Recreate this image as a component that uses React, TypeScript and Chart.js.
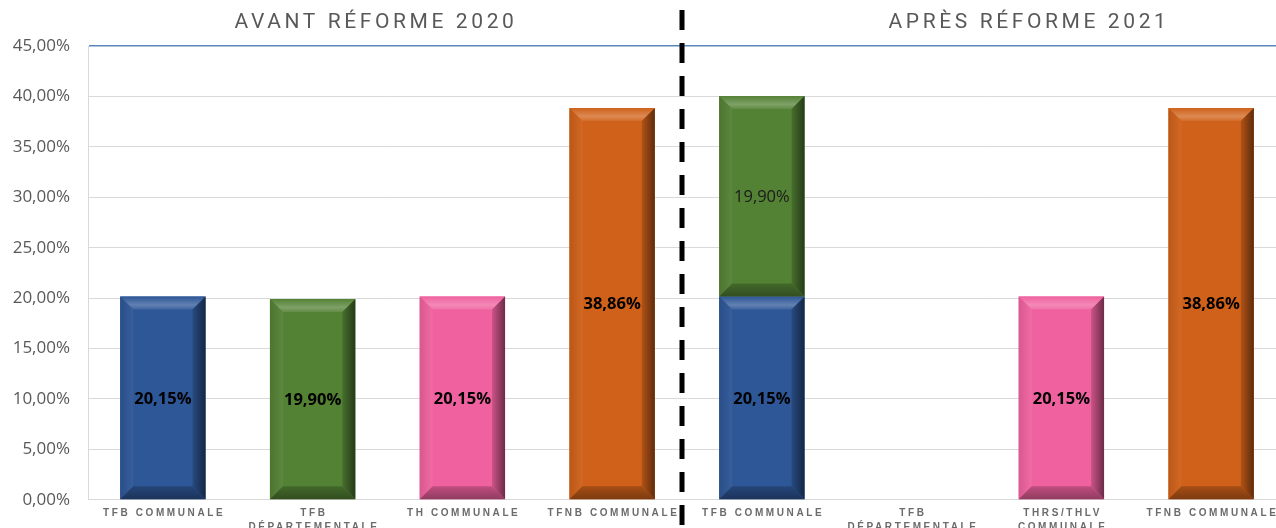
import React, { useEffect, useRef } from "react";
import { Chart, registerables } from "chart.js";

Chart.register(...registerables);

const categories: string[][] = [
  ["TFB COMMUNALE"],
  ["TFB", "DÉPARTEMENTALE"],
  ["TH COMMUNALE"],
  ["TFNB COMMUNALE"],
  ["TFB COMMUNALE"],
  ["TFB", "DÉPARTEMENTALE"],
  ["THRS/THLV", "COMMUNALE"],
  ["TFNB COMMUNALE"],
];
const tfbCommunale = [20.15, 0, 0, 0, 20.15, 0, 0, 0];
const tfbDepartementale = [0, 19.9, 0, 0, 19.9, 0, 0, 0];
const thCommunale = [0, 0, 20.15, 0, 0, 0, 20.15, 0];
const tfnbCommunale = [0, 0, 0, 38.86, 0, 0, 0, 38.86];
const periodTitles = ["AVANT RÉFORME 2020", "APRÈS RÉFORME 2021"];
const yMin = 0;
const yMax = 45;
const yStep = 5;

const COLORS = ["#2E5797", "#548235", "#F0629F", "#D0611A"];

function hexToRgb(h: string) {
  const n = parseInt(h.slice(1), 16);
  return [(n >> 16) & 255, (n >> 8) & 255, n & 255];
}
function mix(h: string, target: number, t: number) {
  const [r, g, b] = hexToRgb(h);
  const f = (c: number) => Math.round(c + (target - c) * t);
  return `rgb(${f(r)},${f(g)},${f(b)})`;
}
const fmt = (v: number) => v.toFixed(2).replace(".", ",") + "%";

const decorPlugin = {
  id: "decor",
  afterDatasetsDraw(chart: any) {
    const ctx = chart.ctx as CanvasRenderingContext2D;
    const zeroY = chart.scales.y.getPixelForValue(0);
    chart.data.datasets.forEach((ds: any, di: number) => {
      const meta = chart.getDatasetMeta(di);
      const base = ds.backgroundColor as string;
      meta.data.forEach((el: any, i: number) => {
        const v = ds.data[i];
        if (!v) return;
        const p = el.getProps(["x", "y", "base", "width"], true);
        const x0 = p.x - p.width / 2;
        const x1 = p.x + p.width / 2;
        const y0 = Math.min(p.y, p.base);
        const y1 = Math.max(p.y, p.base);
        const b = Math.min(13, (y1 - y0) / 2, p.width / 2);
        ctx.save();
        // top face
        ctx.beginPath();
        ctx.moveTo(x0, y0);
        ctx.lineTo(x1, y0);
        ctx.lineTo(x1 - b, y0 + b);
        ctx.lineTo(x0 + b, y0 + b);
        ctx.closePath();
        const gt = ctx.createLinearGradient(0, y0, 0, y0 + b);
        gt.addColorStop(0, mix(base, 255, 0.0));
        gt.addColorStop(0.65, mix(base, 255, 0.25));
        gt.addColorStop(1, mix(base, 255, 0.08));
        ctx.fillStyle = gt;
        ctx.fill();
        // left face
        ctx.beginPath();
        ctx.moveTo(x0, y0);
        ctx.lineTo(x0 + b, y0 + b);
        ctx.lineTo(x0 + b, y1 - b);
        ctx.lineTo(x0, y1);
        ctx.closePath();
        const gl = ctx.createLinearGradient(x0, 0, x0 + b, 0);
        gl.addColorStop(0, mix(base, 0, 0.1));
        gl.addColorStop(1, mix(base, 255, 0.05));
        ctx.fillStyle = gl;
        ctx.fill();
        // right face
        ctx.beginPath();
        ctx.moveTo(x1, y0);
        ctx.lineTo(x1, y1);
        ctx.lineTo(x1 - b, y1 - b);
        ctx.lineTo(x1 - b, y0 + b);
        ctx.closePath();
        const gr = ctx.createLinearGradient(x1 - b, 0, x1, 0);
        gr.addColorStop(0, mix(base, 0, 0.15));
        gr.addColorStop(1, mix(base, 0, 0.55));
        ctx.fillStyle = gr;
        ctx.fill();
        // bottom face
        ctx.beginPath();
        ctx.moveTo(x0, y1);
        ctx.lineTo(x0 + b, y1 - b);
        ctx.lineTo(x1 - b, y1 - b);
        ctx.lineTo(x1, y1);
        ctx.closePath();
        const gb = ctx.createLinearGradient(0, y1 - b, 0, y1);
        gb.addColorStop(0, mix(base, 0, 0.2));
        gb.addColorStop(1, mix(base, 0, 0.4));
        ctx.fillStyle = gb;
        ctx.fill();
        ctx.restore();

        // value label
        const stacked = Math.abs(Math.max(p.y, p.base) - zeroY) > 1;
        ctx.save();
        ctx.font = `${stacked ? "normal" : "bold"} 16.5px 'Open Sans'`;
        ctx.fillStyle = stacked ? "#1a1a1a" : "#000";
        ctx.textAlign = "center";
        ctx.textBaseline = "middle";
        ctx.fillText(fmt(v), p.x, (y0 + y1) / 2 + 1);
        ctx.restore();
      });
    });
  },
  afterDraw(chart: any) {
    const ctx = chart.ctx as CanvasRenderingContext2D;
    const xs = chart.scales.x;
    const area = chart.chartArea;
    // x labels
    ctx.save();
    (ctx as any).letterSpacing = "2.6px";
    ctx.font = "bold 10px 'Liberation Sans'";
    ctx.fillStyle = "#6b6b6b";
    ctx.textAlign = "center";
    ctx.textBaseline = "middle";
    categories.forEach((lines, i) => {
      const cx = xs.getPixelForValue(i) + 1.3;
      lines.forEach((ln, k) => {
        ctx.fillText(ln, cx, area.bottom + 13 + k * 14);
      });
    });
    ctx.restore();

    // titles
    ctx.save();
    (ctx as any).letterSpacing = "3.6px";
    ctx.font = "21px Roboto";
    ctx.fillStyle = "#595959";
    ctx.textAlign = "center";
    ctx.textBaseline = "middle";
    ctx.fillText(periodTitles[0], 376, 23);
    ctx.fillText(periodTitles[1], 1029, 23);
    ctx.restore();

    // dashed separator
    const sx = xs.getPixelForValue(3.5) - 5;
    ctx.save();
    ctx.strokeStyle = "#000";
    ctx.lineWidth = 5;
    ctx.setLineDash([20, 13]);
    ctx.beginPath();
    ctx.moveTo(sx, 10);
    ctx.lineTo(sx, chart.height);
    ctx.stroke();
    ctx.restore();
  },
};

export default function App() {
  const ref = useRef<HTMLCanvasElement>(null);
  useEffect(() => {
    const canvas = ref.current!;
    const chart = new Chart(canvas, {
      type: "bar",
      data: {
        labels: categories.map((c) => c.join(" ")),
        datasets: [
          { label: "TFB communale", data: tfbCommunale, backgroundColor: COLORS[0] },
          { label: "TFB départementale", data: tfbDepartementale, backgroundColor: COLORS[1] },
          { label: "TH communale", data: thCommunale, backgroundColor: COLORS[2] },
          { label: "TFNB communale", data: tfnbCommunale, backgroundColor: COLORS[3] },
        ].map((d) => ({ ...d, barPercentage: 0.57, categoryPercentage: 1, borderWidth: 0, stack: "s" })),
      },
      options: {
        animation: false,
        responsive: false,
        maintainAspectRatio: false,
        layout: { padding: { top: 46, left: 0, right: 0, bottom: 0 } },
        plugins: { legend: { display: false }, tooltip: { enabled: false }, title: { display: false } },
        scales: {
          x: {
            stacked: true,
            grid: { display: false },
            border: { display: true, color: "#D9D9D9" },
            ticks: { display: false },
            afterFit: (s: any) => {
              s.height = 27;
            },
          },
          y: {
            stacked: true,
            min: yMin,
            max: yMax,
            ticks: {
              stepSize: yStep,
              padding: 18,
              color: "#595959",
              font: { family: "'Open Sans'", size: 17 },
              callback: (v: any) => fmt(Number(v)),
            },
            grid: {
              drawTicks: false,
              color: (c: any) => (c.tick && c.tick.value === yMax ? "#5B87BD" : "#D9D9D9"),
              lineWidth: (c: any) => (c.tick && c.tick.value === yMax ? 1.6 : 1),
            },
            border: { display: true, color: "#D9D9D9" },
            afterFit: (s: any) => {
              s.width = 88;
            },
          },
        },
      },
      plugins: [decorPlugin],
    });
    return () => chart.destroy();
  }, []);
  return (
    <div style={{ position: "absolute", left: 0, top: 0, width: 1276, height: 528, overflow: "hidden", background: "#fff" }}>
      <canvas ref={ref} width={1286} height={528} style={{ display: "block", width: 1286, height: 528 }} />
    </div>
  );
}
